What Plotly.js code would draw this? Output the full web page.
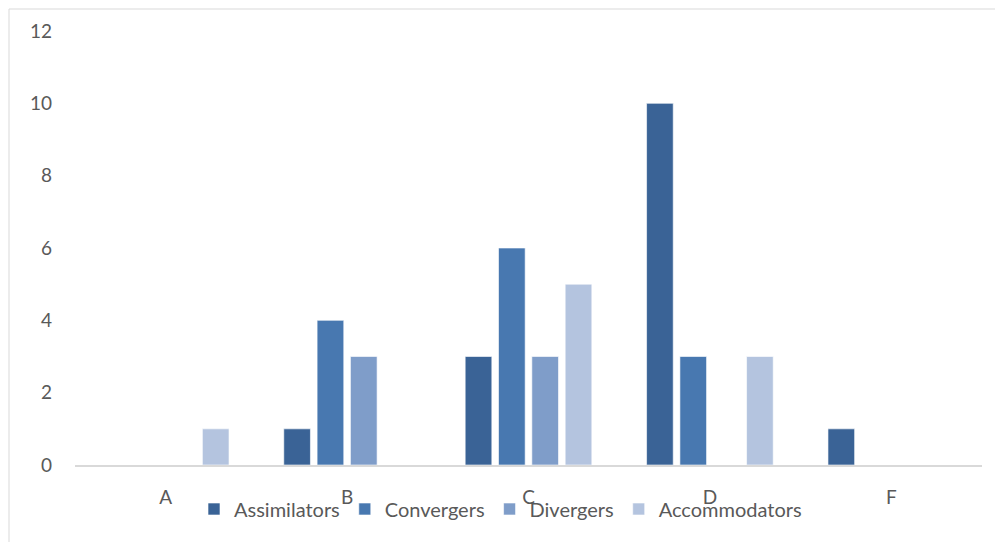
<!DOCTYPE html>
<html>
<head>
<meta charset="utf-8">
<script src="https://cdn.plot.ly/plotly-3.0.1.min.js"></script>
<style>html,body{margin:0;padding:0;background:#fff;}#chart{width:995px;height:542px;}</style>
</head>
<body>
<div id="chart"></div>
<script>
const categories = ["A", "B", "C", "D", "F"];
const seriesNames = ["Assimilators", "Convergers", "Divergers", "Accommodators"];
const assimilators = [0, 1, 3, 10, 1];
const convergers = [0, 4, 6, 3, 0];
const divergers = [0, 3, 3, 0, 0];
const accommodators = [1, 0, 5, 3, 0];
const yTicks = [0, 2, 4, 6, 8, 10, 12];

const seriesValues = [assimilators, convergers, divergers, accommodators];
const colors = ["#3A6396", "#4878B0", "#7F9DC9", "#B4C4DF"];

const traces = seriesNames.map((name, i) => ({
  type: "bar",
  name: name,
  x: categories,
  y: seriesValues[i],
  marker: {color: colors[i], line: {color: "rgba(255,255,255,0.6)", width: 1}},
  hoverinfo: "x+y+name"
}));

const W = 995, H = 542;
const ml = 75, mr = 13, mt = 31, mb = 77;
const pw = W - ml - mr, ph = H - mt - mb;
const px2x = p => (p - ml) / pw;
const py2y = p => (H - mb - p) / ph;

const layout = {
  width: W, height: H,
  margin: {l: ml, r: mr, t: mt, b: mb, pad: 0},
  paper_bgcolor: "#fff",
  plot_bgcolor: "#fff",
  font: {family: "Lato, 'Liberation Sans', sans-serif", color: "#595959", size: 19},
  barmode: "group",
  bargap: 0.265,
  bargroupgap: 0.2,
  showlegend: true,
  legend: {
    orientation: "h",
    x: px2x(194), xanchor: "left",
    y: py2y(509), yanchor: "middle",
    font: {size: 20, color: "#595959"},
    itemwidth: 30,
    tracegroupgap: 0,
    bgcolor: "rgba(0,0,0,0)"
  },
  xaxis: {
    type: "category",
    showgrid: false,
    showline: true,
    linecolor: "#D9D9D9",
    linewidth: 2,
    ticks: "",
    ticklabelstandoff: 14,
    tickfont: {size: 19, color: "#595959"},
    zeroline: false
  },
  yaxis: {
    range: [0, 12],
    tickvals: yTicks,
    ticktext: yTicks.map(String),
    showgrid: false,
    zeroline: false,
    showline: false,
    ticks: "",
    ticklabelstandoff: 22,
    tickfont: {size: 19, color: "#595959"}
  },
  shapes: [
    {type: "line", xref: "paper", yref: "paper", x0: px2x(9), x1: px2x(9), y0: py2y(9), y1: py2y(560), line: {color: "#D9D9D9", width: 1}},
    {type: "line", xref: "paper", yref: "paper", x0: px2x(9), x1: px2x(1000), y0: py2y(9), y1: py2y(9), line: {color: "#D9D9D9", width: 1}}
  ]
};

Plotly.newPlot("chart", traces, layout, {displayModeBar: false, staticPlot: true});
</script>
</body>
</html>
